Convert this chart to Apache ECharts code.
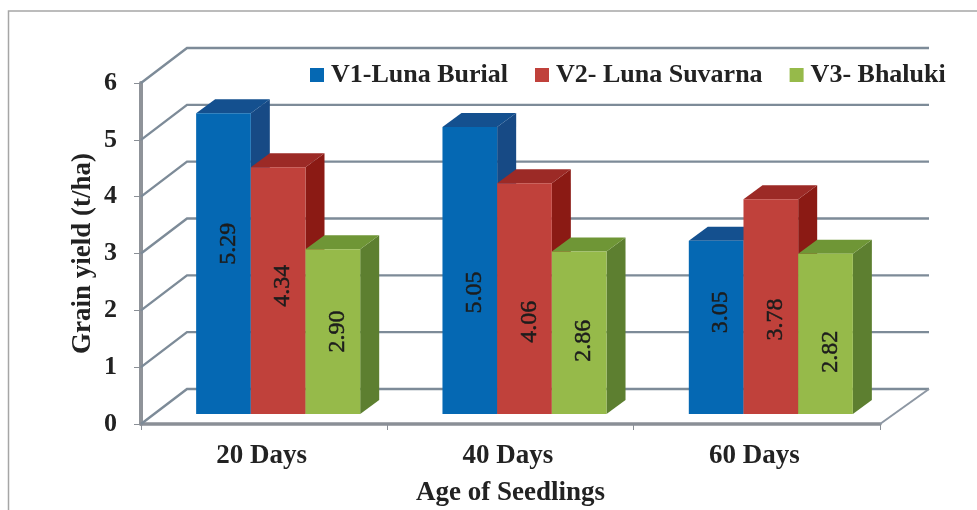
<!DOCTYPE html>
<html>
<head>
<meta charset="utf-8">
<style>
html, body { margin: 0; padding: 0; background: #fff; }
#container { width: 977px; height: 510px; }
</style>
<script src="https://cdn.jsdelivr.net/npm/echarts@6/dist/echarts.min.js"></script>
</head>
<body>
<div id="container"></div>
<script>
var categories = ['20 Days', '40 Days', '60 Days'];
var v1Values = [5.29, 5.05, 3.05];
var v2Values = [4.34, 4.06, 3.78];
var v3Values = [2.90, 2.86, 2.82];
var yTicks = [0, 1, 2, 3, 4, 5, 6];

// hand placed in the original, so the label height is nudged per bar
var v1LabelShift = [-20, 22, -15];
var v2LabelShift = [-5, 23, 13];
var v3LabelShift = [0, 8, 18];

var serifFont = '"Liberation Serif", "DejaVu Serif", serif';

var dom = document.getElementById('container');
var myChart = echarts.init(dom, null, { renderer: 'canvas' });

// fake 3D: wall depth and bar depth in pixels
var wallDx = 46, wallDy = -35, floorDx = 14, floorDy = -10, barDx = 19, barDy = -14;

function renderWall(params, api) {
    var v = api.value(0);
    var band = api.size([1, 0])[0];
    var left = api.coord([0, v]);
    var right = api.coord([2, v]);
    var x0 = left[0] - band / 2;
    var x1 = right[0] + band / 2;
    var y = left[1];
    var children = [{
        type: 'polyline',
        shape: { points: [[x0, y], [x0 + wallDx, y + wallDy], [x1 + wallDx + 3, y + wallDy]] },
        style: { fill: null, stroke: '#7d8b98', lineWidth: 2.4 }
    }];
    if (v === 0) {
        children.push({
            type: 'line',
            shape: { x1: x1, y1: y, x2: x1 + wallDx + 3, y2: y + wallDy },
            style: { stroke: '#8d97a3', lineWidth: 2 }
        });
    }
    return { type: 'group', children: children };
}

function makeBarRenderer(slot, front, top, side, shifts) {
    return function (params, api) {
        var cat = api.value(0);
        var val = api.value(1);
        var band = api.size([1, 0])[0];
        var w = band * 0.222;
        var c = api.coord([cat, val]);
        var base = api.coord([cat, 0])[1] + floorDy;
        var x = c[0] + floorDx + (slot - 1.5) * w;
        var y = c[1] + floorDy;
        return {
            type: 'group',
            children: [
                {
                    type: 'polygon',
                    shape: { points: [[x + w, y], [x + w + barDx, y + barDy], [x + w + barDx, base + barDy], [x + w, base]] },
                    style: { fill: side }
                },
                {
                    type: 'polygon',
                    shape: { points: [[x, y], [x + barDx, y + barDy], [x + w + barDx, y + barDy], [x + w, y]] },
                    style: { fill: top }
                },
                {
                    type: 'rect',
                    shape: { x: x, y: y, width: w, height: base - y },
                    style: { fill: front }
                },
                {
                    type: 'text',
                    x: x + w / 2 + 5,
                    y: (y + base) / 2 + shifts[cat],
                    rotation: Math.PI / 2,
                    style: {
                        text: val.toFixed(2),
                        font: '24px ' + serifFont,
                        fill: '#1c1c1c',
                        stroke: '#1c1c1c',
                        lineWidth: 0.5,
                        align: 'center',
                        verticalAlign: 'middle'
                    }
                }
            ]
        };
    };
}

function pairs(values) {
    var out = [];
    for (var i = 0; i < values.length; i++) {
        out.push([i, values[i]]);
    }
    return out;
}

var option = {
    backgroundColor: '#fff',
    animation: false,
    graphic: [{
        type: 'polyline',
        silent: true,
        shape: { points: [[8.5, 512], [8.5, 11], [979, 11]] },
        style: { fill: null, stroke: '#a6a6a6', lineWidth: 1.5 }
    }],
    legend: {
        data: ['V1-Luna Burial', 'V2- Luna Suvarna', 'V3- Bhaluki'],
        left: 305,
        top: 57,
        itemWidth: 14,
        itemHeight: 14,
        itemGap: 27,
        icon: 'rect',
        textStyle: { fontFamily: serifFont, fontWeight: 'bold', fontSize: 26, color: '#222', padding: [0, 0, 0, 2] }
    },
    grid: { left: 141, right: 97, top: 83, bottom: 86, outerBoundsMode: 'none' },
    xAxis: {
        type: 'category',
        data: categories,
        axisLine: { lineStyle: { color: '#8a8f96', width: 3.5 } },
        axisTick: { show: true, length: 6, lineStyle: { color: '#8a8f96', width: 1 } },
        axisLabel: { fontFamily: serifFont, fontWeight: 'bold', fontSize: 27, color: '#222', margin: 19, padding: [0, 5, 0, 0] },
        name: 'Age of Seedlings',
        nameLocation: 'middle',
        nameGap: 56,
        nameTextStyle: { fontFamily: serifFont, fontWeight: 'bold', fontSize: 27, color: '#222' }
    },
    yAxis: {
        type: 'value',
        min: 0,
        max: 6,
        interval: 1,
        splitLine: { show: false },
        axisLine: { show: true, lineStyle: { color: '#8f9399', width: 4 } },
        axisTick: { show: true, length: 7, lineStyle: { color: '#8a8f96', width: 1 } },
        axisLabel: { fontFamily: serifFont, fontWeight: 'bold', fontSize: 26, color: '#222', margin: 24 },
        name: 'Grain yield (t/ha)',
        nameLocation: 'middle',
        nameGap: 44,
        nameMoveOverlap: false,
        nameTextStyle: { fontFamily: serifFont, fontWeight: 'bold', fontSize: 27, color: '#222' }
    },
    series: [
        {
            type: 'custom',
            name: 'walls',
            silent: true,
            clip: false,
            z: 1,
            encode: { y: 0 },
            data: yTicks.map(function (t) { return [t]; }),
            renderItem: renderWall
        },
        {
            type: 'custom',
            name: 'V1-Luna Burial',
            clip: false,
            z: 3,
            itemStyle: { color: '#0568b3' },
            encode: { x: 0, y: 1 },
            data: pairs(v1Values),
            renderItem: makeBarRenderer(0, '#0568b3', '#14508f', '#174a85', v1LabelShift)
        },
        {
            type: 'custom',
            name: 'V2- Luna Suvarna',
            clip: false,
            z: 3,
            itemStyle: { color: '#c0413b' },
            encode: { x: 0, y: 1 },
            data: pairs(v2Values),
            renderItem: makeBarRenderer(1, '#c0413b', '#9c2a26', '#8b1a14', v2LabelShift)
        },
        {
            type: 'custom',
            name: 'V3- Bhaluki',
            clip: false,
            z: 3,
            itemStyle: { color: '#96ba4a' },
            encode: { x: 0, y: 1 },
            data: pairs(v3Values),
            renderItem: makeBarRenderer(2, '#96ba4a', '#6f9636', '#5d7f30', v3LabelShift)
        }
    ]
};

myChart.setOption(option);
window.addEventListener('resize', myChart.resize);
</script>
</body>
</html>
